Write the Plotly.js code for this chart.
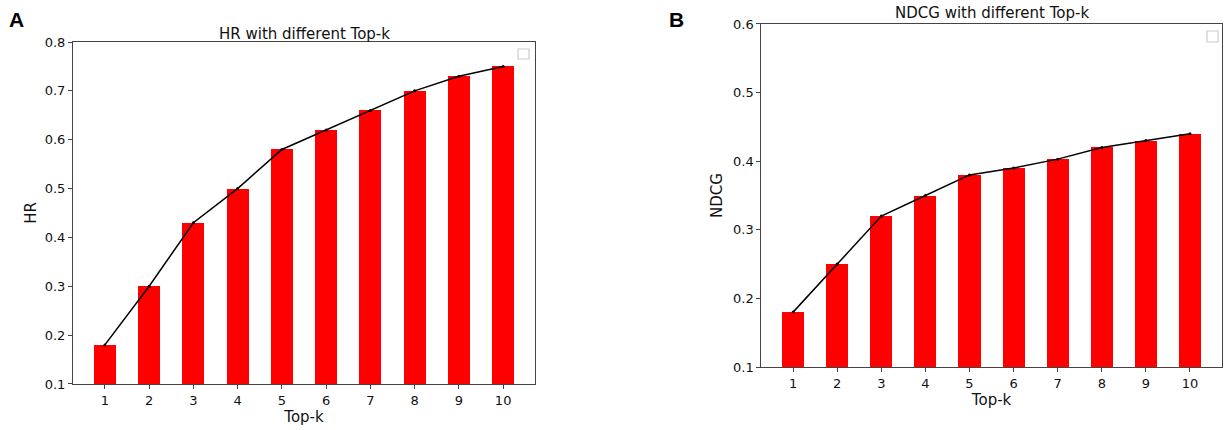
<!DOCTYPE html>
<html>
<head>
<meta charset="utf-8">
<script src="https://cdn.plot.ly/plotly-3.0.1.min.js"></script>
<style>html,body{margin:0;padding:0;background:#fff;}#chart{width:1229px;height:430px;}</style>
</head>
<body>
<div id="chart"></div>
<script>
const topK = [1, 2, 3, 4, 5, 6, 7, 8, 9, 10];
const hrValues = [0.18, 0.30, 0.43, 0.50, 0.58, 0.62, 0.66, 0.70, 0.73, 0.75];
const ndcgValues = [0.18, 0.25, 0.32, 0.35, 0.38, 0.39, 0.403, 0.42, 0.43, 0.44];
const hrTicks = [0.1, 0.2, 0.3, 0.4, 0.5, 0.6, 0.7, 0.8];
const ndcgTicks = [0.1, 0.2, 0.3, 0.4, 0.5, 0.6];

const FONT = 'DejaVu Sans, sans-serif';

function bar(y, xa, ya) {
  return {type: 'bar', x: topK, y: y, width: 0.5, xaxis: xa, yaxis: ya,
    marker: {color: '#ff0000', line: {width: 0}}, showlegend: false, hoverinfo: 'skip'};
}
function line(y, xa, ya) {
  return {type: 'scatter', mode: 'lines+markers', x: topK, y: y, xaxis: xa, yaxis: ya,
    line: {color: '#000000', width: 1.5}, marker: {color: '#000000', size: 3},
    showlegend: false, hoverinfo: 'skip'};
}

const data = [
  bar(hrValues, 'x', 'y'), line(hrValues, 'x', 'y'),
  bar(ndcgValues, 'x2', 'y2'), line(ndcgValues, 'x2', 'y2')
];

function xAxis(domain, anchor) {
  return {domain: domain, anchor: anchor, range: [0.28, 10.72], tickmode: 'array', tickvals: topK,
    ticktext: topK.map(String), showgrid: false, zeroline: false, showline: true, mirror: true,
    linecolor: '#444', linewidth: 1, ticks: 'outside', ticklen: 4, tickcolor: '#444',
    tickfont: {family: FONT, size: 13, color: '#111'},
    title: {text: 'Top-k', font: {family: FONT, size: 15, color: '#111'}, standoff: 4}};
}
function yAxis(domain, anchor, ticks, range, label, standoff) {
  return {domain: domain, anchor: anchor, range: range, tickmode: 'array', tickvals: ticks,
    ticktext: ticks.map(v => v.toFixed(1)), showgrid: false, zeroline: false, showline: true, mirror: true,
    linecolor: '#444', linewidth: 1, ticks: 'outside', ticklen: 4, tickcolor: '#444',
    tickfont: {family: FONT, size: 13, color: '#111'},
    title: {text: label, font: {family: FONT, size: 15, color: '#111'}, standoff: standoff}};
}

const layout = {
  width: 1229, height: 430,
  margin: {l: 0, r: 0, t: 0, b: 0},
  paper_bgcolor: '#ffffff', plot_bgcolor: '#ffffff',
  bargap: 0,
  xaxis: xAxis([0.0594, 0.4353], 'y'),
  yaxis: yAxis([0.107, 0.9023], 'x', hrTicks, [0.1, 0.8], 'HR', 4),
  xaxis2: xAxis([0.6195, 0.9941], 'y2'),
  yaxis2: yAxis([0.1465, 0.9442], 'x2', ndcgTicks, [0.1, 0.6], 'NDCG', 6),
  annotations: [
    {text: 'HR with different Top-k', xref: 'paper', yref: 'paper', x: 0.2474, y: 1 - 34/430,
      xanchor: 'center', yanchor: 'middle', showarrow: false, font: {family: FONT, size: 15, color: '#111'}},
    {text: 'NDCG with different Top-k', xref: 'paper', yref: 'paper', x: 0.8068, y: 1 - 13/430,
      xanchor: 'center', yanchor: 'middle', showarrow: false, font: {family: FONT, size: 15, color: '#111'}},
    {text: '<b>A</b>', xref: 'paper', yref: 'paper', x: 7/1229, y: 1 - 20/430,
      xanchor: 'left', yanchor: 'middle', showarrow: false, font: {family: 'Liberation Sans, Arial, sans-serif', size: 21, color: '#000'}},
    {text: '<b>B</b>', xref: 'paper', yref: 'paper', x: 667/1229, y: 1 - 20/430,
      xanchor: 'left', yanchor: 'middle', showarrow: false, font: {family: 'Liberation Sans, Arial, sans-serif', size: 21, color: '#000'}}
  ],
  shapes: [
    {type: 'rect', xref: 'paper', yref: 'paper', x0: 518/1229, x1: 529/1229, y0: 1 - 59/430, y1: 1 - 49/430,
      line: {color: '#cccccc', width: 1.2}, fillcolor: 'rgba(0,0,0,0)'},
    {type: 'rect', xref: 'paper', yref: 'paper', x0: 1207/1229, x1: 1218/1229, y0: 1 - 42/430, y1: 1 - 31/430,
      line: {color: '#cccccc', width: 1.2}, fillcolor: 'rgba(0,0,0,0)'}
  ]
};

Plotly.newPlot('chart', data, layout, {displayModeBar: false, staticPlot: true});
</script>
</body>
</html>
